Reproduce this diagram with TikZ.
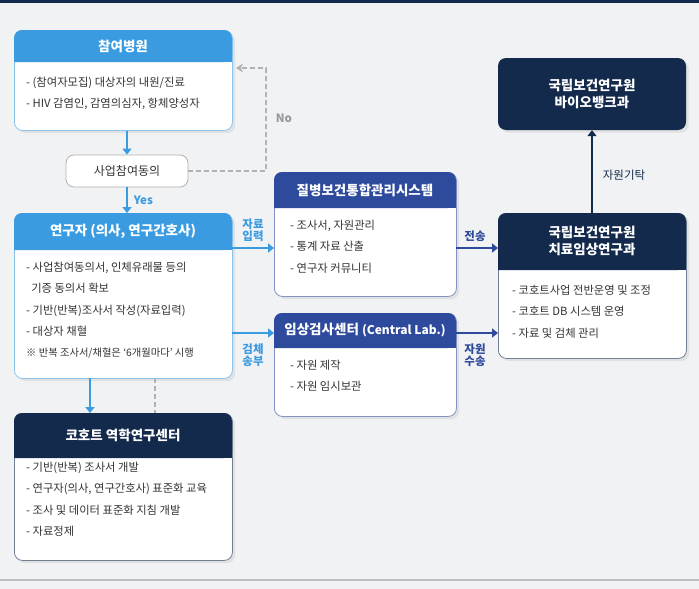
\documentclass[tikz,border=0pt]{standalone}
\usepackage{fontspec}
\setmainfont{Noto Sans CJK KR}
\usetikzlibrary{arrows.meta,shadows}
\definecolor{cblue}{HTML}{3A9BE0}
\definecolor{cnavy}{HTML}{132A4C}
\definecolor{cpur}{HTML}{2E4A9C}
\definecolor{cbg}{HTML}{F1F2F4}
\definecolor{ctxt}{HTML}{333333}
\tikzset{
 bodyb/.style={draw=#1!60!white, line width=0.8pt, fill=white, rounded corners=8pt, drop shadow={opacity=0.15}},
 hdr/.style={fill=#1, text=white, rounded corners=8pt, font=\fontsize{13.5}{17}\selectfont\bfseries, align=center},
 lst/.style={anchor=north west, align=left, text=ctxt, font=\fontsize{11.3}{21.3}\selectfont, inner sep=0},
 arB/.style={draw=cblue, line width=1.8pt, -{Triangle[length=6pt,width=9pt]}},
 arP/.style={draw=cpur, line width=1.8pt, -{Triangle[length=6pt,width=9pt]}},
 arN/.style={draw=cnavy, line width=1.8pt, -{Triangle[length=6pt,width=9pt]}},
 dsh/.style={draw=gray!60, line width=2pt, dash pattern=on 5pt off 3pt},
 lbl/.style={font=\fontsize{11.5}{12.5}\selectfont\bfseries, align=center, inner sep=0},
}
\newcommand{\mkbox}[7]{% name, x1, y1, x2, yh, y2, color
 \node[bodyb=#7, minimum width=#4-#2, minimum height=#6-#3, anchor=north west] (#1) at (#2,#3) {};
 \path[fill=#7, rounded corners=8pt] (#2,#5) -- (#2,#3) -- (#4,#3) -- (#4,#5) [sharp corners] -- cycle;
 \fill[#7] (#2,#5) rectangle (#4,#5-8);
}
\begin{document}
\begin{tikzpicture}[x=1pt,y=-1pt]
\useasboundingbox (0,0) rectangle (699,589);
\fill[cbg] (0,0) rectangle (699,589);
\fill[cnavy] (0,0) rectangle (699,3);
\fill[gray!50] (0,579) rectangle (699,581);

% box 1
\mkbox{b1}{14}{30}{232}{62}{130}{cblue}
\node[hdr=cblue, fill=none] (h1) at (123,46) {참여병원};
\node[lst] (t1) at (26,77) {- (참여자모집) 대상자의 내원/진료\\- HIV 감염인, 감염의심자, 항체양성자};

% consent
\node[draw=gray!60, line width=0.8pt, fill=white, rounded corners=8pt, minimum width=122, minimum height=32, font=\fontsize{12}{14}\selectfont, text=ctxt] (c) at (127,171) {사업참여동의};

% researcher
\mkbox{b2}{14}{213}{232}{250}{378}{cblue}
\node[hdr=cblue, fill=none] (h2) at (123,231) {연구자 (의사, 연구간호사)};
\node[lst] (t2) at (26,262) {- 사업참여동의서, 인체유래물 등의\\\ \ 기증 동의서 확보\\- 기반(반복)조사서 작성(자료입력)\\- 대상자 채혈\\\fontsize{10.3}{21.3}\selectfont ※ 반복 조사서/채혈은 ‘6개월마다’ 시행};

% cohort
\mkbox{b3}{14}{413}{232}{458}{560}{cnavy}
\node[hdr=cnavy, fill=none] (h3) at (123,435) {코호트 역학연구센터};
\node[lst] (t3) at (26,462) {- 기반(반복) 조사서 개발\\- 연구자(의사, 연구간호사) 표준화 교육\\- 조사 및 데이터 표준화 지침 개발\\- 자료정제};

% system
\mkbox{b4}{274}{172}{456}{208}{296}{cpur}
\node[hdr=cpur, fill=none] (h4) at (365,190) {질병보건통합관리시스템};
\node[lst] (t4) at (290,220) {- 조사서, 자원관리\\- 통계 자료 산출\\- 연구자 커뮤니티};

% lab
\mkbox{b5}{274}{313}{456}{348}{416}{cpur}
\node[hdr=cpur, fill=none] (h5) at (365,330) {임상검사센터 \fontsize{12}{14}\selectfont(Central Lab.)};
\node[lst] (t5) at (290,360) {- 자원 제작\\- 자원 임시보관};

% biobank
\node[hdr=cnavy, minimum width=188, minimum height=72, drop shadow={opacity=0.15}] (bb) at (592,94) {국립보건연구원\\바이오뱅크과};

% clinical
\mkbox{b6}{498}{213}{686}{270}{358}{cnavy}
\node[hdr=cnavy, fill=none] (h6) at (592,241) {국립보건연구원\\치료임상연구과};
\node[lst] (t6) at (512,285) {- 코호트사업 전반운영 및 조정\\- 코호트 DB 시스템 운영\\- 자료 및 검체 관리};

% connectors
\draw[arB] (b1.south -| c.north) -- (c.north);
\draw[arB] (c.south) -- (c.south |- b2.north) node[midway, right=6pt, lbl, text=cblue] {Yes};
\draw[dsh, -{Stealth[length=7pt,width=9pt]}] (c.east) -- (266,171) -- (266,68) -- (236,68);
\node[lbl, text=gray!80] (no) at (284,118) {No};

\draw[arB] (232,248) -- (b4.west |- 0,248);
\node[lbl, text=cblue] (l1) at (253,230) {자료\\입력};
\draw[arB] (232,333) -- (b5.west |- 0,333);
\node[lbl, text=cblue] (l2) at (253,355) {검체\\송부};
\draw[arP] (456,248) -- (b6.west |- 0,248);
\node[lbl, text=cpur] (l3) at (475,236) {전송};
\draw[arP] (456,333) -- (b6.west |- 0,333);
\node[lbl, text=cpur] (l4) at (475,355) {자원\\수송};
\draw[arN] (592,213) -- (bb.south);
\node[lbl, text=cnavy, font=\fontsize{11.5}{12.5}\selectfont] (l5) at (624,175) {자원기탁};

\draw[arB] (90,378) -- (90,413);
\draw[dsh] (155,378) -- (155,413);
\end{tikzpicture}
\end{document}
